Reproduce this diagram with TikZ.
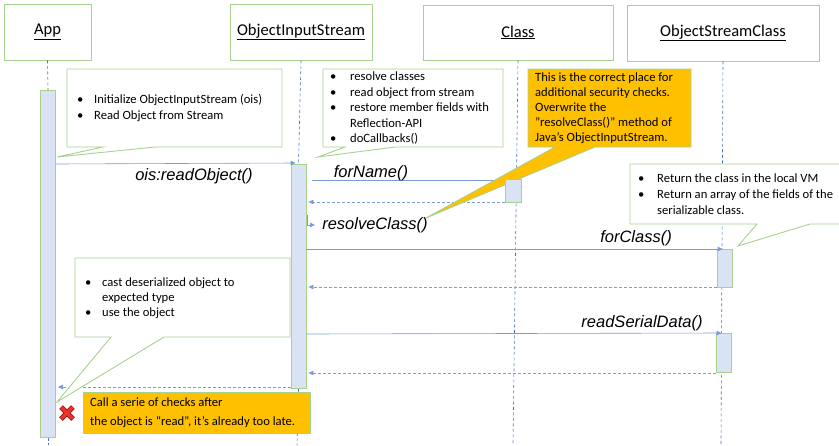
\documentclass[tikz,border=0pt]{standalone}
\usepackage{fontspec}
\setmainfont{Carlito}
\newfontfamily\arialfont{Liberation Sans}
\usetikzlibrary{arrows.meta,calc}

\definecolor{lgreen}{HTML}{A9D18E}
\definecolor{barfill}{HTML}{DAE3F3}
\definecolor{lineblue}{HTML}{4472C4}
\definecolor{msgblue}{HTML}{7A9BD8}
\definecolor{gold}{HTML}{FFC000}
\definecolor{xred}{HTML}{E8332A}
\definecolor{xdark}{HTML}{9E1B14}

% bullet with a fixed hanging indent
\newcommand{\bl}[1]{\makebox[#1][l]{\textbullet}}
\newcommand{\ind}[1]{\hspace*{#1}}

\begin{document}
\begin{tikzpicture}[x=1pt,y=-1pt,
  head/.style={draw=lgreen, line width=0.9pt, fill=white, inner sep=0pt,
               font=\fontsize{16.5}{18}\selectfont},
  actbar/.style={draw=lgreen, line width=0.9pt, fill=barfill, minimum width=15pt,
                 inner sep=0pt, anchor=north},
  life/.style={lineblue, line width=0.6pt, dash pattern=on 3pt off 2.5pt},
  msg/.style={msgblue, line width=0.6pt, -{Triangle[length=5pt,width=4.5pt]}},
  ret/.style={msgblue, line width=0.6pt, dash pattern=on 3pt off 2pt,
              -{Triangle[length=5pt,width=4.5pt]}},
  mlabel/.style={font=\arialfont\itshape\fontsize{16.5}{18}\selectfont, inner sep=0pt},
  callout/.style={draw=lgreen, line width=0.9pt, fill=white, line join=miter},
  goldcallout/.style={callout, fill=gold},
  ntext/.style={anchor=base west, inner sep=0pt},
]
\useasboundingbox (0,0) rectangle (839,445);
\clip (0,0) rectangle (839,445);

% ---- participants ----
\node[head, minimum width=87pt, minimum height=56pt] (app) at (47.5,32) {\underline{App}};
\node[head, minimum width=142pt, minimum height=56pt] (ois) at (301,32) {\underline{ObjectInputStream}};
\node[head, minimum width=190pt, minimum height=55pt] (cls) at (518,32.5) {\underline{Class}};
\node[head, minimum width=192pt, minimum height=56pt] (osc) at (723,33) {\underline{ObjectStreamClass}};

% ---- lifeline ends ----
\coordinate (append) at (48,445);
\coordinate (oisend) at (297,445);
\coordinate (clsend) at (513,445);
\coordinate (oscend) at (721,445);

% ---- activation bars (positions only) ----
\path (48,90) node[actbar, minimum height=347pt, draw=none, fill=none] (appbar) {};
\path (298.5,164) node[actbar, minimum height=224pt, draw=none, fill=none] (oisbar) {};

% ---- lifelines ----
\draw[life] (app.south) -- (appbar.north);
\draw[life] (appbar.south) -- (append);
\draw[life] (ois.south) -- (oisbar.north);
\draw[life] (oisbar.south) -- (oisend);
\draw[life] (cls.south) -- (clsend);
\draw[life] (osc.south) -- (oscend);

% ---- activation bars ----
\node[actbar, minimum height=347pt] at (appbar.north) {};
\node[actbar, minimum height=224pt] at (oisbar.north) {};
\node[actbar, minimum height=23pt, minimum width=16pt] (clsbar) at (513,179) {};
\node[actbar, minimum height=38pt] (oscbar1) at (724.5,249) {};
\node[actbar, minimum height=39pt] (oscbar2) at (723.5,333) {};

% ---- message rows ----
\coordinate (r1) at (0,164);
\coordinate (r2) at (0,180);
\coordinate (r3) at (0,202);
\coordinate (r4) at (0,249);
\coordinate (r5) at (0,287);
\coordinate (r6) at (0,334);
\coordinate (r7) at (0,373);
\coordinate (r8) at (0,387);
\coordinate (self1) at (307,215);
\coordinate (self2) at (315,225);

% ---- messages ----
\draw[msg] (appbar.east |- r1) -- ($(oisbar.north west)+(5,-1)$);
\draw[msgblue, line width=0.6pt] ($(oisbar.east |- r2)+(6,0)$) -- (clsbar.west |- r2);
\draw[ret] (clsbar.west |- r3) -- ($(oisbar.east |- r3)+(2,0)$);
\draw[msg] (self1) |- (self2);
\draw[msg] (oisbar.east |- r4) -- ($(oscbar1.north)+(-2,0)$);
\draw[ret] (oscbar1.west |- r5) -- ($(oisbar.east |- r5)+(2,0)$);
\draw[msg] (oisbar.east |- r6) -- ($(oscbar2.north)+(-2,0)$);
\draw[ret] (oscbar2.west |- r7) -- ($(oisbar.east |- r7)+(2,0)$);
\draw[ret] (oisbar.west |- r8) -- ($(appbar.east |- r8)+(2,0)$);

% ---- message labels ----
\node[mlabel] (lread) at (194,176) {ois:readObject()};
\node[mlabel] (lforname) at (371,173) {forName()};
\node[mlabel] (lresolve) at (375,225) {resolveClass()};
\node[mlabel] (lforclass) at (636,238.5) {forClass()};
\node[mlabel] (lserial) at (642,323.5) {readSerialData()};

% ---- notes ----
\draw[callout] (67,69) -- (282,69) -- (282,147) -- (155,147) -- (57,157) -- (103,147) -- (67,147) -- cycle;
\node[ntext, font=\fontsize{12.6}{16}\selectfont] (nApp) at (77,103.5)
  {\parbox[t]{205pt}{\bl{17pt}Initialize ObjectInputStream (ois)\\
                     \bl{17pt}Read Object from Stream}};

\draw[callout] (323,69) -- (503,69) -- (503,147) -- (395,147) -- (318,157) -- (345,147) -- (323,147) -- cycle;
\node[ntext, font=\fontsize{12.6}{15.5}\selectfont] (nOis) at (330,80.5)
  {\parbox[t]{172pt}{\bl{20pt}resolve classes\\
                     \bl{20pt}read object from stream\\
                     \bl{20pt}restore member fields with\\
                     \ind{20pt}Reflection-API\\
                     \bl{20pt}doCallbacks()}};

\coordinate (tipResolve) at (426,218);
\draw[goldcallout] (528,69) -- (691,69) -- (691,147) -- (595,147) -- (tipResolve) -- (555,147) -- (528,147) -- cycle;
\node[ntext, font=\fontsize{12.6}{15}\selectfont] (nGold) at (535,81.5)
  {\parbox[t]{160pt}{This is the correct place for\\
                     additional security checks.\\
                     Overwrite the\\
                     "resolveClass()" method of\\
                     Java’s ObjectInputStream.}};
% keep the Class activation visible above the pointer
\node[actbar, minimum height=23pt, minimum width=16pt] at (clsbar.north) {};

\draw[callout] (630,164) -- (845,164) -- (845,224) -- (810,224) -- (738,246) -- (757,224) -- (630,224) -- cycle;
\node[ntext, font=\fontsize{12.6}{16}\selectfont] (nOsc) at (638,182.5)
  {\parbox[t]{205pt}{\bl{19pt}Return the class in the local VM\\
                     \bl{19pt}Return an array of the fields of the\\
                     \ind{19pt}serializable class.}};

\draw[callout] (75,258) -- (290,258) -- (290,337) -- (164,337) -- (57,402) -- (111,337) -- (75,337) -- cycle;
\node[ntext, font=\fontsize{12.6}{15}\selectfont] (nUse) at (85,286.5)
  {\parbox[t]{200pt}{\bl{17pt}cast deserialized object to\\
                     \ind{17pt}expected type\\
                     \bl{17pt}use the object}};

\node[draw=lgreen, line width=0.9pt, fill=gold, minimum width=227pt, minimum height=41pt,
      anchor=north west, inner sep=0pt] (late) at (83,392) {};
\node[ntext, font=\fontsize{12.6}{19}\selectfont] (nLate) at (90,406.5)
  {\parbox[t]{225pt}{Call a serie of checks after\\
                     the object is “read”, it’s already too late.}};

% ---- red cross ----
\coordinate (xc) at (67,413);
\draw[xdark, line width=5pt] ($(xc)+(-6,-6)$) -- ($(xc)+(6,6)$) ($(xc)+(-6,6)$) -- ($(xc)+(6,-6)$);
\draw[xred, line width=3.4pt] ($(xc)+(-5.6,-5.6)$) -- ($(xc)+(5.6,5.6)$) ($(xc)+(-5.6,5.6)$) -- ($(xc)+(5.6,-5.6)$);
\end{tikzpicture}
\end{document}
